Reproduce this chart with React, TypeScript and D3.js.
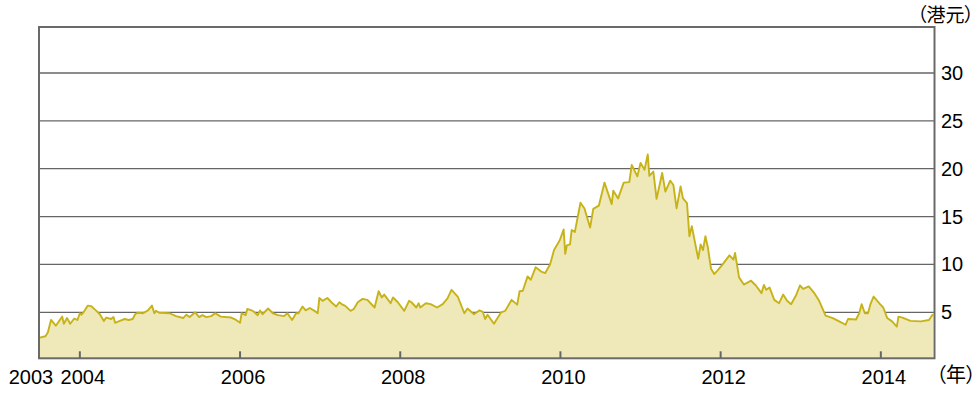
import React from "react";
import * as d3 from "d3";

const years: number[] = [
  2003.50, 2003.57, 2003.60, 2003.64, 2003.70, 2003.78, 2003.80, 2003.84, 2003.88, 2003.93,
  2003.97, 2004.00, 2004.02, 2004.05, 2004.10, 2004.14, 2004.20, 2004.25, 2004.30, 2004.33,
  2004.39, 2004.42, 2004.44, 2004.50, 2004.56, 2004.61, 2004.66, 2004.69, 2004.72, 2004.79,
  2004.85, 2004.90, 2004.93, 2004.95, 2004.99, 2005.12, 2005.20, 2005.29, 2005.33, 2005.37,
  2005.41, 2005.44, 2005.49, 2005.53, 2005.58, 2005.64, 2005.69, 2005.76, 2005.89, 2005.95,
  2006.00, 2006.02, 2006.07, 2006.09, 2006.16, 2006.22, 2006.25, 2006.28, 2006.35, 2006.41,
  2006.47, 2006.55, 2006.59, 2006.65, 2006.70, 2006.73, 2006.78, 2006.82, 2006.87, 2006.93,
  2006.97, 2006.99, 2007.03, 2007.09, 2007.14, 2007.20, 2007.24, 2007.28, 2007.31, 2007.38,
  2007.42, 2007.47, 2007.53, 2007.59, 2007.68, 2007.73, 2007.77, 2007.80, 2007.84, 2007.88,
  2007.91, 2007.97, 2008.05, 2008.11, 2008.14, 2008.20, 2008.23, 2008.25, 2008.32, 2008.38,
  2008.46, 2008.53, 2008.59, 2008.64, 2008.72, 2008.80, 2008.84, 2008.92, 2008.99, 2009.03,
  2009.06, 2009.09, 2009.17, 2009.26, 2009.31, 2009.39, 2009.46, 2009.49, 2009.53, 2009.59,
  2009.63, 2009.69, 2009.76, 2009.81, 2009.87, 2009.92, 2009.99, 2010.04, 2010.06, 2010.08,
  2010.12, 2010.14, 2010.18, 2010.25, 2010.30, 2010.37, 2010.41, 2010.48, 2010.55, 2010.64,
  2010.66, 2010.72, 2010.79, 2010.86, 2010.89, 2010.96, 2011.00, 2011.05, 2011.09, 2011.11,
  2011.16, 2011.20, 2011.27, 2011.31, 2011.37, 2011.41, 2011.45, 2011.50, 2011.53, 2011.58,
  2011.61, 2011.64, 2011.72, 2011.75, 2011.78, 2011.81, 2011.84, 2011.88, 2011.92, 2011.96,
  2012.02, 2012.11, 2012.16, 2012.18, 2012.23, 2012.29, 2012.38, 2012.44, 2012.51, 2012.54,
  2012.57, 2012.61, 2012.67, 2012.73, 2012.78, 2012.83, 2012.88, 2012.94, 2012.99, 2013.03,
  2013.10, 2013.17, 2013.23, 2013.31, 2013.40, 2013.48, 2013.56, 2013.59, 2013.69, 2013.73,
  2013.76, 2013.80, 2013.84, 2013.87, 2013.91, 2013.99, 2014.03, 2014.08, 2014.14, 2014.20,
  2014.22, 2014.27, 2014.37, 2014.50, 2014.60, 2014.65,
];

const prices: number[] = [
  2.35, 2.5, 2.9, 4.2, 3.6, 4.55, 3.8, 4.4, 3.8, 4.35,
  4.2, 4.9, 4.75, 5.05, 5.7, 5.65, 5.2, 4.8, 4.1, 4.45,
  4.3, 4.5, 3.9, 4.1, 4.3, 4.2, 4.3, 4.8, 4.95, 4.9,
  5.2, 5.7, 4.9, 5.15, 4.95, 4.9, 4.6, 4.4, 4.75, 4.5,
  4.8, 5.0, 4.5, 4.7, 4.5, 4.6, 4.9, 4.55, 4.45, 4.2,
  3.9, 4.9, 4.7, 5.35, 5.15, 4.7, 5.2, 4.8, 5.4, 4.9,
  4.7, 4.6, 4.9, 4.2, 4.9, 4.9, 5.6, 5.2, 5.45, 5.15,
  4.9, 6.5, 6.2, 6.5, 6.05, 5.6, 6.05, 5.8, 5.7, 5.15,
  5.35, 6.05, 6.4, 6.3, 5.5, 7.2, 6.55, 6.85, 6.4, 5.95,
  6.55, 6.05, 5.15, 6.2, 6.05, 5.5, 5.95, 5.5, 5.95, 5.85,
  5.5, 5.85, 6.45, 7.35, 6.6, 4.9, 5.4, 4.8, 5.2, 5.05,
  4.3, 4.75, 3.8, 5.0, 5.15, 6.3, 5.8, 7.2, 7.25, 8.75,
  8.4, 9.7, 9.25, 9.1, 10.0, 11.5, 12.5, 13.65, 11.1, 12.0,
  12.1, 13.6, 13.4, 16.45, 15.85, 13.85, 15.8, 16.15, 18.55, 16.3,
  17.7, 16.9, 18.55, 18.6, 20.4, 19.2, 20.6, 19.9, 21.5, 19.25,
  19.7, 16.85, 19.55, 17.6, 18.75, 18.3, 15.85, 18.15, 16.9, 16.4,
  12.95, 14.0, 10.6, 12.1, 11.5, 12.95, 11.8, 9.55, 9.0, 9.35,
  9.95, 10.95, 10.5, 11.2, 8.65, 7.9, 8.3, 7.8, 7.0, 7.85,
  7.35, 7.6, 6.3, 5.95, 6.85, 6.2, 5.85, 6.75, 7.8, 7.45,
  7.7, 7.0, 6.2, 4.65, 4.4, 4.05, 3.7, 4.3, 4.25, 4.9,
  5.85, 4.9, 4.9, 5.85, 6.65, 5.85, 5.5, 4.4, 4.05, 3.5,
  4.55, 4.45, 4.1, 4.05, 4.2, 4.8,
];

const yTicks: number[] = [5, 10, 15, 20, 25, 30];
const xTicks: number[] = [2004, 2006, 2008, 2010, 2012, 2014];
const startLabel = "2003";
const yUnit = "（港元）";
const xUnit = "（年）";

const W = 977;
const H = 395;
const left = 39;
const right = 934.5;
const top = 27;
const bottom = 358.3;

export default function App() {
  const x = d3.scaleLinear().domain([2003.49, 2014.67]).range([left, right]);
  const y = d3.scaleLinear().domain([5, 30]).range([312.3, 73]);
  const pts = years.map((t, i) => [t, prices[i]] as [number, number]);
  const area = d3
    .area<[number, number]>()
    .x((d) => x(d[0]))
    .y0(bottom)
    .y1((d) => y(d[1]));
  const line = d3
    .line<[number, number]>()
    .x((d) => x(d[0]))
    .y((d) => y(d[1]));
  const font = "'Liberation Sans', Arial, sans-serif";
  const cjk = "'Noto Sans CJK JP', 'Noto Sans CJK SC', sans-serif";
  const cjkStyle = { fontFeatureSettings: "'palt'" } as React.CSSProperties;
  return (
    <svg
      width={W}
      height={H}
      style={{ position: "absolute", left: 0, top: 0, background: "#fff" }}
    >
      {yTicks.map((t) => (
        <line key={t} x1={left} x2={right} y1={y(t)} y2={y(t)} stroke="#666" strokeWidth={1.3} />
      ))}
      <path d={area(pts) || ""} fill="#efe9b9" />
      <path d={line(pts) || ""} fill="none" stroke="#c6b31a" strokeWidth={1.9} strokeLinejoin="round" />
      {xTicks.map((t) => (
        <line key={t} x1={x(t)} x2={x(t)} y1={bottom} y2={bottom - 7} stroke="#666" strokeWidth={2} />
      ))}
      <rect x={left} y={top} width={right - left} height={bottom - top} fill="none" stroke="#6a6a6a" strokeWidth={2} />
      {yTicks.map((t) => (
        <text key={t} x={941} y={y(t) + 7} fontFamily={font} fontSize={20} fill="#000">
          {t}
        </text>
      ))}
      {xTicks.map((t) => (
        <text key={t} x={x(t) + 3} y={383.5} fontFamily={font} fontSize={20} textAnchor="middle" fill="#000">
          {t}
        </text>
      ))}
      <text x={x(2003.49) - 8} y={383.5} fontFamily={font} fontSize={20} textAnchor="middle" fill="#000">
        {startLabel}
      </text>
      <text x={974} y={22} fontFamily={cjk} fontSize={19} textAnchor="end" fill="#000" style={cjkStyle}>
        {yUnit}
      </text>
      <text x={976} y={382} fontFamily={cjk} fontSize={20} textAnchor="end" fill="#000" style={cjkStyle}>
        {xUnit}
      </text>
    </svg>
  );
}
